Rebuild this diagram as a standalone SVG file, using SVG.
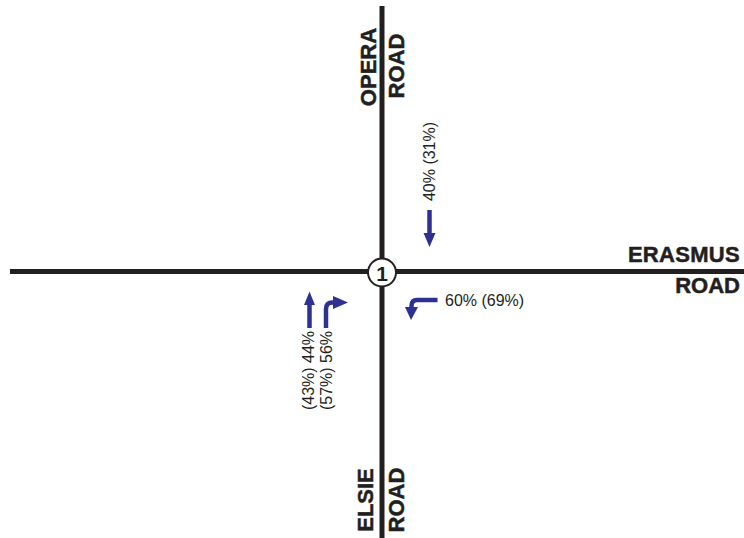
<svg xmlns="http://www.w3.org/2000/svg" width="744" height="538" viewBox="0 0 744 538">
  <defs>
    <style>
      .road { stroke: #231f20; stroke-width: 5; fill: none; }
      .name { font-family: "Liberation Sans", Arial, sans-serif; font-weight: bold; font-size: 22px; fill: #231f20; stroke: #231f20; stroke-width: 0.5px; }
      .pct { font-family: "Liberation Sans", Arial, sans-serif; font-size: 16px; fill: #231f20; }
      .flow { stroke: #2e3192; stroke-width: 4.5; fill: none; }
      .head { fill: #2e3192; }
    </style>
  </defs>

  <!-- road centre lines -->
  <g id="roads">
    <line class="road" x1="382" y1="6" x2="382" y2="538"/>
    <line class="road" x1="10" y1="271.5" x2="744" y2="271.5"/>
  </g>

  <!-- road names -->
  <g id="opera-road">
    <text class="name" transform="translate(376,67) rotate(-90)" text-anchor="middle">OPERA</text>
    <text class="name" transform="translate(404,66) rotate(-90)" text-anchor="middle">ROAD</text>
  </g>
  <g id="erasmus-road">
    <text class="name" x="740" y="262" text-anchor="end" letter-spacing="0.3">ERASMUS</text>
    <text class="name" x="740" y="293" text-anchor="end">ROAD</text>
  </g>
  <g id="elsie-road">
    <text class="name" transform="translate(373,500) rotate(-90)" text-anchor="middle">ELSIE</text>
    <text class="name" transform="translate(404,500) rotate(-90)" text-anchor="middle">ROAD</text>
  </g>

  <!-- intersection marker -->
  <g id="intersection-1">
    <circle cx="382" cy="272.5" r="14" fill="#ffffff" stroke="#231f20" stroke-width="2"/>
    <text x="382" y="281" text-anchor="middle" font-family="Liberation Sans, Arial, sans-serif" font-weight="bold" font-size="21" fill="#231f20">1</text>
  </g>

  <!-- turning movements -->
  <g id="connectors">
    <!-- southbound through from Opera Road -->
    <line class="flow" x1="429.5" y1="210" x2="429.5" y2="235"/>
    <polygon class="head" points="423.5,233 435.5,233 429.5,247"/>

    <!-- westbound left turn from Erasmus Road -->
    <path class="flow" d="M437.5,300 L417,300 Q411.5,300 411.5,306 L411.5,309"/>
    <polygon class="head" points="405,307 418,307 411,320"/>

    <!-- northbound through from Elsie Road -->
    <line class="flow" x1="309.5" y1="328" x2="309.5" y2="303"/>
    <polygon class="head" points="304,305 315,305 309.5,291.5"/>

    <!-- northbound right turn from Elsie Road -->
    <path class="flow" d="M326,328 L326,309 Q326,302.5 332.5,302.5 L335,302.5"/>
    <polygon class="head" points="333,296 333,309 348,302.5"/>
  </g>

  <!-- movement percentages -->
  <g id="labels">
    <text class="pct" transform="translate(435,161.5) rotate(-90)" text-anchor="middle">40% (31%)</text>
    <text class="pct" x="445" y="306">60% (69%)</text>
    <text class="pct" transform="translate(313.5,370.5) rotate(-90)" text-anchor="middle">(43%) 44%</text>
    <text class="pct" transform="translate(331.5,370.5) rotate(-90)" text-anchor="middle">(57%) 56%</text>
  </g>
</svg>
